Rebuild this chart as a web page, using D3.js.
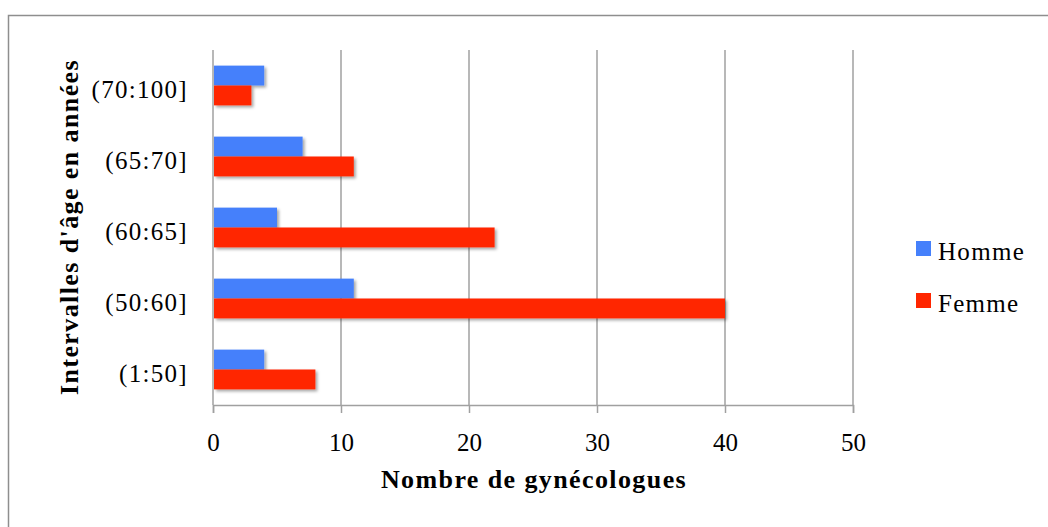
<!DOCTYPE html>
<html><head><meta charset="utf-8">
<script src="https://cdn.jsdelivr.net/npm/d3@7"></script>
<style>body{margin:0;background:#fff}svg{display:block}</style>
</head><body>
<svg id="c" width="1048" height="527"></svg>
<script>
const categories = ["(1:50]", "(50:60]", "(60:65]", "(65:70]", "(70:100]"];
const homme = [4, 11, 5, 7, 4];
const femme = [8, 40, 22, 11, 3];
const seriesNames = ["Homme", "Femme"];
const xTicks = [0, 10, 20, 30, 40, 50];
const colors = {Homme: "#4580fb", Femme: "#ff2600"};

const svg = d3.select("#c");
const font = "'Liberation Serif', 'DejaVu Serif', serif";
const m = {left: 213, right: 853, top: 50, bottom: 405};

const defs = svg.append("defs");
const f = defs.append("filter").attr("id", "sh").attr("x", "-10%").attr("y", "-20%").attr("width", "130%").attr("height", "160%");
f.append("feDropShadow").attr("dx", 2).attr("dy", 2).attr("stdDeviation", 1.5).attr("flood-color", "#000").attr("flood-opacity", 0.35);

svg.append("rect").attr("x", 8.5).attr("y", 15.5).attr("width", 1060).attr("height", 530)
  .attr("fill", "none").attr("stroke", "#8e8e8e").attr("stroke-width", 1.5);

const x = d3.scaleLinear().domain([0, 50]).range([m.left, m.right]);
const y = d3.scaleBand().domain(categories.slice().reverse()).range([m.top, m.bottom]).paddingInner(0.44).paddingOuter(0.22);
const ys = d3.scaleBand().domain(seriesNames).range([0, y.bandwidth()]);

// gridlines
svg.append("g").selectAll("line").data(xTicks).join("line")
  .attr("x1", d => x(d)).attr("x2", d => x(d)).attr("y1", m.top).attr("y2", m.bottom)
  .attr("stroke", "#a0a0a0").attr("stroke-width", 1.5);

// x axis
const xa = svg.append("g").attr("transform", `translate(0,${m.bottom})`)
  .call(d3.axisBottom(x).tickValues(xTicks).tickSize(8).tickPadding(20));
xa.select(".domain").attr("stroke", "#a0a0a0").attr("stroke-width", 1.5);
xa.selectAll(".tick line").attr("stroke", "#a0a0a0").attr("stroke-width", 1.5);
xa.selectAll("text").attr("font-family", font).attr("font-size", 25).attr("fill", "#000");

// y axis labels
const ya = svg.append("g").attr("transform", `translate(${m.left},0)`)
  .call(d3.axisLeft(y).tickSize(0).tickPadding(25));
ya.select(".domain").remove();
ya.selectAll("text").attr("font-family", font).attr("font-size", 25).attr("fill", "#000")
  .attr("letter-spacing", 1.3).attr("dy", "0.48em");

// bars
const data = categories.map((c, i) => ({c, Homme: homme[i], Femme: femme[i]}));
const g = svg.append("g");
seriesNames.forEach(s => {
  g.selectAll(null).data(data).join("rect")
    .attr("x", x(0) + 1)
    .attr("y", d => y(d.c) + ys(s))
    .attr("width", d => x(d[s]) - x(0) - 1)
    .attr("height", ys.bandwidth())
    .attr("fill", colors[s])
    .attr("filter", "url(#sh)");
});

// axis titles
svg.append("text").attr("x", 534).attr("y", 488).attr("text-anchor", "middle")
  .attr("font-family", font).attr("font-weight", "bold").attr("font-size", 26)
  .attr("letter-spacing", 1.4)
  .text("Nombre de gynécologues");
svg.append("text").attr("transform", "translate(78,227) rotate(-90)").attr("text-anchor", "middle")
  .attr("font-family", font).attr("font-weight", "bold").attr("font-size", 26)
  .attr("letter-spacing", 1.4)
  .text("Intervalles d'âge en années");

// legend
const lg = svg.append("g");
seriesNames.forEach((s, i) => {
  const yy = 241 + i * 52;
  lg.append("rect").attr("x", 916).attr("y", yy).attr("width", 15).attr("height", 15).attr("fill", colors[s]);
  lg.append("text").attr("x", 938).attr("y", yy + 19).attr("font-family", font).attr("font-size", 25)
    .attr("letter-spacing", 1.3).text(s);
});
</script>
</body></html>
